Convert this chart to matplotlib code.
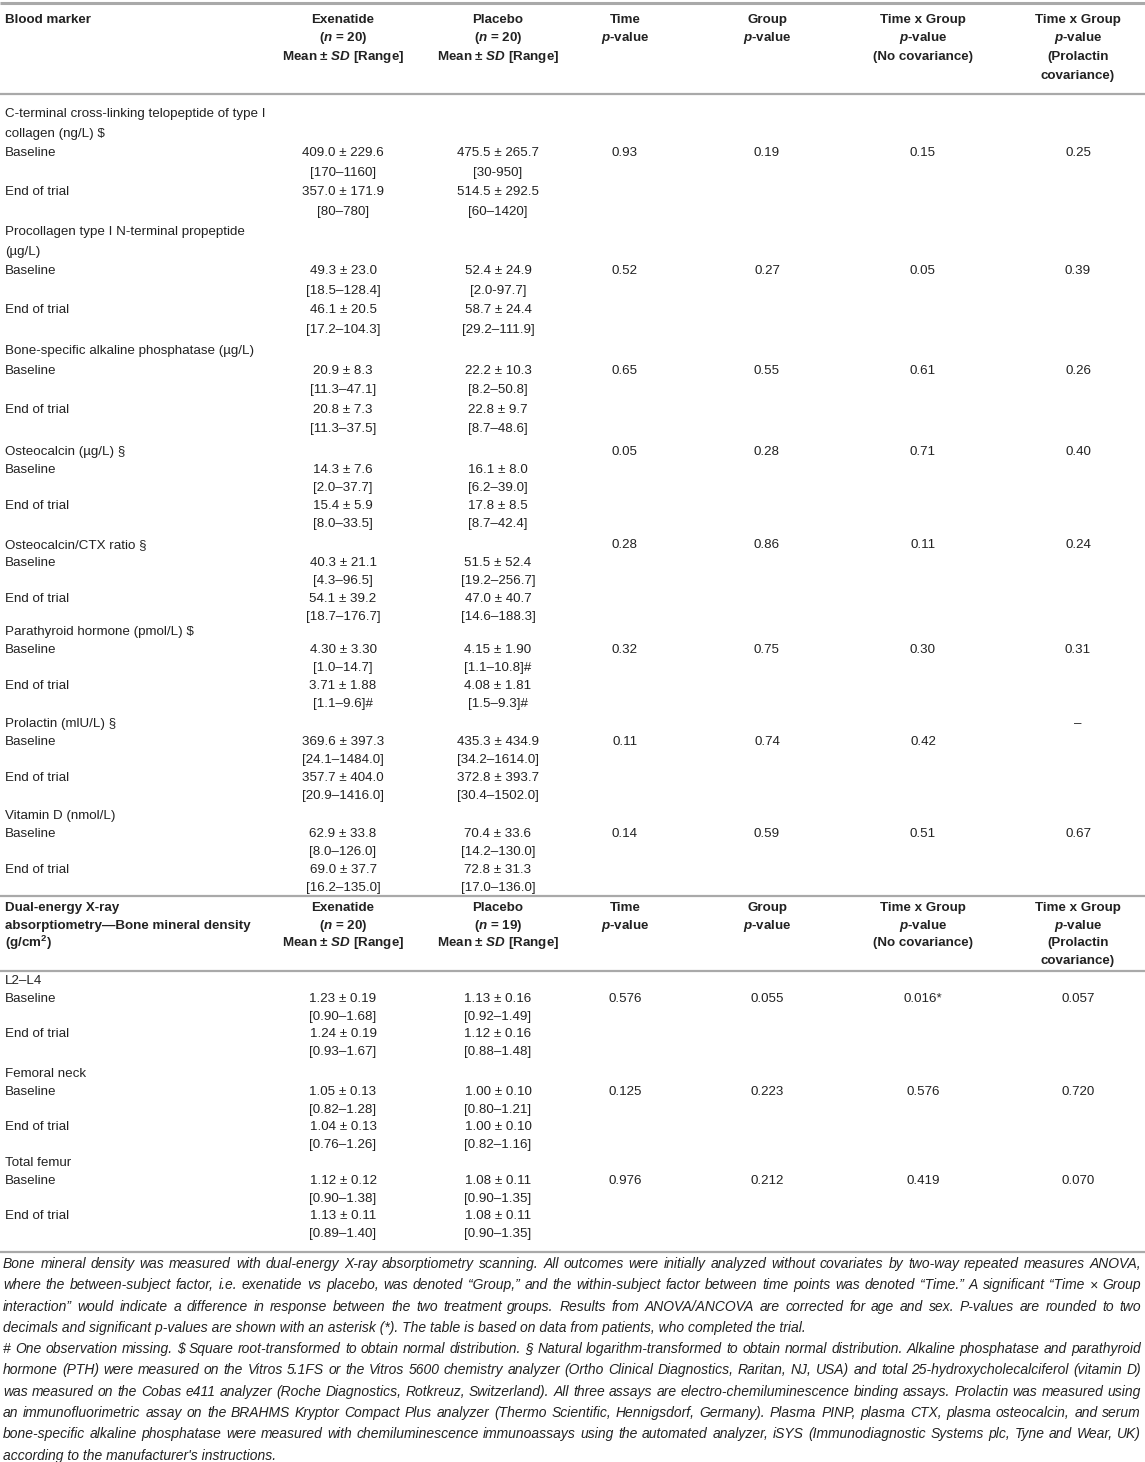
import matplotlib
matplotlib.use("Agg")
import matplotlib.pyplot as plt
from matplotlib.font_manager import FontProperties, findfont

plt.rcParams['font.family'] = ['Liberation Sans', 'DejaVu Sans']
plt.rcParams['mathtext.fontset'] = 'custom'
plt.rcParams['mathtext.rm'] = 'Liberation Sans:bold'
plt.rcParams['mathtext.it'] = 'Liberation Sans:italic:bold'
plt.rcParams['mathtext.bf'] = 'Liberation Sans:bold'
plt.rcParams['mathtext.default'] = 'rm'

# ---------------- data ----------------
blood_markers = [
    ["C-terminal cross-linking telopeptide of type I", "collagen (ng/L) $"],
    ["Procollagen type I N-terminal propeptide", "(µg/L)"],
    ["Bone-specific alkaline phosphatase (µg/L)"],
    ["Osteocalcin (µg/L) §"],
    ["Osteocalcin/CTX ratio §"],
    ["Parathyroid hormone (pmol/L) $"],
    ["Prolactin (mlU/L) §"],
    ["Vitamin D (nmol/L)"],
]
exe_base = ["409.0 ± 229.6", "49.3 ± 23.0", "20.9 ± 8.3", "14.3 ± 7.6",
            "40.3 ± 21.1", "4.30 ± 3.30", "369.6 ± 397.3", "62.9 ± 33.8"]
exe_base_rng = ["[170–1160]", "[18.5–128.4]", "[11.3–47.1]", "[2.0–37.7]",
                "[4.3–96.5]", "[1.0–14.7]", "[24.1–1484.0]", "[8.0–126.0]"]
exe_end = ["357.0 ± 171.9", "46.1 ± 20.5", "20.8 ± 7.3", "15.4 ± 5.9",
           "54.1 ± 39.2", "3.71 ± 1.88", "357.7 ± 404.0", "69.0 ± 37.7"]
exe_end_rng = ["[80–780]", "[17.2–104.3]", "[11.3–37.5]", "[8.0–33.5]",
               "[18.7–176.7]", "[1.1–9.6]#", "[20.9–1416.0]", "[16.2–135.0]"]
pla_base = ["475.5 ± 265.7", "52.4 ± 24.9", "22.2 ± 10.3", "16.1 ± 8.0",
            "51.5 ± 52.4", "4.15 ± 1.90", "435.3 ± 434.9", "70.4 ± 33.6"]
pla_base_rng = ["[30-950]", "[2.0-97.7]", "[8.2–50.8]", "[6.2–39.0]",
                "[19.2–256.7]", "[1.1–10.8]#", "[34.2–1614.0]", "[14.2–130.0]"]
pla_end = ["514.5 ± 292.5", "58.7 ± 24.4", "22.8 ± 9.7", "17.8 ± 8.5",
           "47.0 ± 40.7", "4.08 ± 1.81", "372.8 ± 393.7", "72.8 ± 31.3"]
pla_end_rng = ["[60–1420]", "[29.2–111.9]", "[8.7–48.6]", "[8.7–42.4]",
               "[14.6–188.3]", "[1.5–9.3]#", "[30.4–1502.0]", "[17.0–136.0]"]
p_time = ["0.93", "0.52", "0.65", "0.05", "0.28", "0.32", "0.11", "0.14"]
p_group = ["0.19", "0.27", "0.55", "0.28", "0.86", "0.75", "0.74", "0.59"]
p_txg = ["0.15", "0.05", "0.61", "0.71", "0.11", "0.30", "0.42", "0.51"]
p_txg_prl = ["0.25", "0.39", "0.26", "0.40", "0.24", "0.31", "–", "0.67"]
# p-values printed on the marker's title line (True) or on the Baseline line
p_on_title = [False, False, False, True, True, False, False, False]

dxa_sites = ["L2–L4", "Femoral neck", "Total femur"]
dxa_exe_base = ["1.23 ± 0.19", "1.05 ± 0.13", "1.12 ± 0.12"]
dxa_exe_base_rng = ["[0.90–1.68]", "[0.82–1.28]", "[0.90–1.38]"]
dxa_exe_end = ["1.24 ± 0.19", "1.04 ± 0.13", "1.13 ± 0.11"]
dxa_exe_end_rng = ["[0.93–1.67]", "[0.76–1.26]", "[0.89–1.40]"]
dxa_pla_base = ["1.13 ± 0.16", "1.00 ± 0.10", "1.08 ± 0.11"]
dxa_pla_base_rng = ["[0.92–1.49]", "[0.80–1.21]", "[0.90–1.35]"]
dxa_pla_end = ["1.12 ± 0.16", "1.00 ± 0.10", "1.08 ± 0.11"]
dxa_pla_end_rng = ["[0.88–1.48]", "[0.82–1.16]", "[0.90–1.35]"]
dxa_p_time = ["0.576", "0.125", "0.976"]
dxa_p_group = ["0.055", "0.223", "0.212"]
dxa_p_txg = ["0.016*", "0.576", "0.419"]
dxa_p_txg_prl = ["0.057", "0.720", "0.070"]

blood_head = ["Blood marker"]
dxa_head = ["Dual-energy X-ray", "absorptiometry\u2014Bone mineral density", "(g/cm$^2$)"]
col_heads = [
    ["Exenatide", r"($\mathit{n}$ = 20)", r"Mean ± $\mathit{SD}$ [Range]"],
    ["Placebo", r"($\mathit{n}$ = 20)", r"Mean ± $\mathit{SD}$ [Range]"],
    ["Time", r"$\mathit{p}$-value"],
    ["Group", r"$\mathit{p}$-value"],
    ["Time x Group", r"$\mathit{p}$-value", "(No covariance)"],
    ["Time x Group", r"$\mathit{p}$-value", "(Prolactin", "covariance)"],
]
dxa_n_pla = r"($\mathit{n}$ = 19)"

footnote_paras = [
    ["Bone mineral density was measured with dual-energy X-ray absorptiometry scanning. All outcomes were initially analyzed without covariates by two-way repeated measures ANOVA,",
     "where the between-subject factor, i.e. exenatide vs placebo, was denoted \u201cGroup,\u201d and the within-subject factor between time points was denoted \u201cTime.\u201d A significant \u201cTime \u00d7 Group",
     "interaction\u201d would indicate a difference in response between the two treatment groups. Results from ANOVA/ANCOVA are corrected for age and sex. P-values are rounded to two",
     "decimals and significant p-values are shown with an asterisk (*). The table is based on data from patients, who completed the trial."],
    ["# One observation missing. $ Square root-transformed to obtain normal distribution. \u00a7 Natural logarithm-transformed to obtain normal distribution. Alkaline phosphatase and parathyroid",
     "hormone (PTH) were measured on the Vitros 5.1FS or the Vitros 5600 chemistry analyzer (Ortho Clinical Diagnostics, Raritan, NJ, USA) and total 25-hydroxycholecalciferol (vitamin D)",
     "was measured on the Cobas e411 analyzer (Roche Diagnostics, Rotkreuz, Switzerland). All three assays are electro-chemiluminescence binding assays. Prolactin was measured using",
     "an immunofluorimetric assay on the BRAHMS Kryptor Compact Plus analyzer (Thermo Scientific, Hennigsdorf, Germany). Plasma PINP, plasma CTX, plasma osteocalcin, and serum",
     "bone-specific alkaline phosphatase were measured with chemiluminescence immunoassays using the automated analyzer, iSYS (Immunodiagnostic Systems plc, Tyne and Wear, UK)",
     "according to the manufacturer's instructions."],
]

# ---------------- layout ----------------
W, H = 1145, 1462
TXT = '#222222'
RULE = '#a9a9a9'
FS = 9.6
col_x = [343, 498, 625, 767, 923, 1078]
left_x = 5

fig = plt.figure(figsize=(W / 100, H / 100), dpi=100)
ax = fig.add_axes([0, 0, 1, 1])
ax.set_xlim(0, W)
ax.set_ylim(H, 0)
ax.axis('off')


def put(x, y, s, ha='left', bold=False, math=False):
    ax.text(x, y, s, ha=ha, va='center', fontsize=FS, color=TXT,
            fontweight='bold' if bold else 'normal', parse_math=math)


def rule(y, lw=1.6):
    ax.plot([0, W], [y, y], color=RULE, lw=lw, solid_capstyle='butt')


def header(y0, step, first_col, n_pla=None):
    for i, s in enumerate(first_col):
        put(left_x, y0 + i * step, s, bold=True, math=True)
    for c, lines in enumerate(col_heads):
        for i, s in enumerate(lines):
            if c == 1 and i == 1 and n_pla is not None:
                s = n_pla
            put(col_x[c], y0 + i * step, s, ha='center', bold=True, math=True)


def block(y0, step, title, eb, ebr, ee, eer, pb, pbr, pe, per, pvals, on_title):
    y = y0
    for s in title:
        put(left_x, y, s)
        y += step
    title_y = y0
    base_y = y
    put(left_x, base_y, "Baseline")
    put(col_x[0], base_y, eb, ha='center')
    put(col_x[0], base_y + step, ebr, ha='center')
    put(col_x[1], base_y, pb, ha='center')
    put(col_x[1], base_y + step, pbr, ha='center')
    end_y = base_y + 2 * step
    put(left_x, end_y, "End of trial")
    put(col_x[0], end_y, ee, ha='center')
    put(col_x[0], end_y + step, eer, ha='center')
    put(col_x[1], end_y, pe, ha='center')
    put(col_x[1], end_y + step, per, ha='center')
    for c, v in enumerate(pvals):
        yy = title_y if (on_title or v == '–') else base_y
        put(col_x[2 + c], yy, v, ha='center')


# rules
rule(3, 2.2)
rule(94)
rule(896)
rule(971)
rule(1252)

header(20, 18.5, blood_head)
header(908, 17.6, dxa_head, n_pla=dxa_n_pla)

blood_y0 = [114, 232, 351, 452, 545, 632, 724, 816]
for i in range(len(blood_markers)):
    step = 19.6 if i < 3 else 18.1
    block(blood_y0[i], step, blood_markers[i],
          exe_base[i], exe_base_rng[i], exe_end[i], exe_end_rng[i],
          pla_base[i], pla_base_rng[i], pla_end[i], pla_end_rng[i],
          [p_time[i], p_group[i], p_txg[i], p_txg_prl[i]], p_on_title[i])

dxa_y0 = [981, 1074, 1163]
for i in range(len(dxa_sites)):
    block(dxa_y0[i], 17.8, [dxa_sites[i]],
          dxa_exe_base[i], dxa_exe_base_rng[i], dxa_exe_end[i], dxa_exe_end_rng[i],
          dxa_pla_base[i], dxa_pla_base_rng[i], dxa_pla_end[i], dxa_pla_end_rng[i],
          [dxa_p_time[i], dxa_p_group[i], dxa_p_txg[i], dxa_p_txg_prl[i]], False)

# ---------------- footnote (justified, italic) ----------------
try:
    findfont(FontProperties(family='Liberation Sans Narrow'), fallback_to_default=False)
    foot_family = ['Liberation Sans Narrow', 'DejaVu Sans']
except Exception:
    foot_family = ['Liberation Sans', 'DejaVu Sans']
foot_fs = 10.0

renderer = fig.canvas.get_renderer()
fx0, fx1 = 3, 1141


def width_of(s, prop):
    w, h, d = renderer.get_text_width_height_descent(s, prop, ismath=False)
    return w


all_lines = [ln for p in footnote_paras for ln in p]
prop = FontProperties(family=foot_family, style='italic', size=foot_fs)
widest = max(width_of(ln, prop) for ln in all_lines)
# scale so the widest line nearly fills the width
foot_fs *= (fx1 - fx0) * 0.995 / widest
prop = FontProperties(family=foot_family, style='italic', size=foot_fs)

fy = 1264
for para in footnote_paras:
    for k, ln in enumerate(para):
        last = (k == len(para) - 1)
        words = ln.split(' ')
        if last:
            ax.text(fx0, fy, ln, ha='left', va='center', fontproperties=prop,
                    color=TXT, parse_math=False)
        else:
            ws = [width_of(wd, prop) for wd in words]
            gap = (fx1 - fx0 - sum(ws)) / (len(words) - 1)
            x = fx0
            for wd, wdw in zip(words, ws):
                ax.text(x, fy, wd, ha='left', va='center', fontproperties=prop,
                        color=TXT, parse_math=False)
                x += wdw + gap
        fy += 21.3

fig.savefig("out.png", dpi=100)
